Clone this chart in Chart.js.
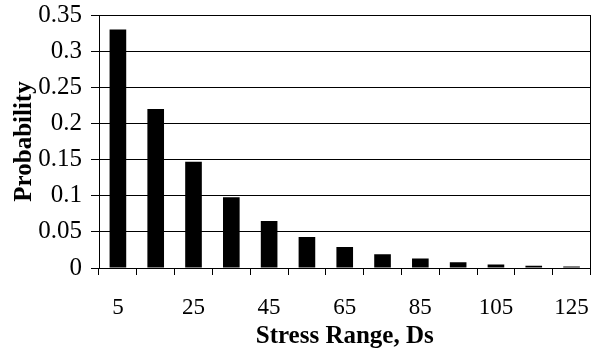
<!DOCTYPE html>
<html>
<head>
<meta charset="utf-8">
<script src="https://cdn.jsdelivr.net/npm/chart.js@4"></script>
<style>
    html, body { margin: 0; padding: 0; background: #fff; }
    #wrap { width: 608px; height: 349px; }
</style>
</head>
<body>
<div id="wrap"><canvas id="bar-chart-stress"></canvas></div>
<script>
"use strict";

const stressRanges = [5, 15, 25, 35, 45, 55, 65, 75, 85, 95, 105, 115, 125];
const probabilities = [0.33, 0.22, 0.147, 0.098, 0.065, 0.043, 0.029, 0.019, 0.013, 0.008, 0.005, 0.003, 0.002];
const yTickMax = 0.35;
const yTickStep = 0.05;

const serif = "'Liberation Serif', 'Times New Roman', serif";

const ctx = document.querySelector("#bar-chart-stress").getContext('2d');
new Chart(ctx, {
    type: 'bar',
    data: {
        labels: stressRanges,
        datasets: [{
            label: 'Probability',
            data: probabilities,
            backgroundColor: '#000',
            barPercentage: 0.44,
            categoryPercentage: 1
        }]
    },
    options: {
        responsive: true,
        maintainAspectRatio: false,
        animation: false,
        layout: { padding: { top: 15, right: 0, left: 0, bottom: 0 } },
        plugins: {
            legend: { display: false },
            tooltip: { enabled: false }
        },
        scales: {
            x: {
                offset: true,
                grid: {
                    offset: true,
                    drawOnChartArea: false,
                    drawTicks: true,
                    tickLength: 7,
                    color: '#000'
                },
                border: { color: '#000', width: 1 },
                ticks: {
                    autoSkip: false,
                    maxRotation: 0,
                    padding: 19,
                    color: '#000',
                    font: { family: serif, size: 23 },
                    callback: (val, i) => (i % 2 === 0 ? stressRanges[i] : '')
                },
                title: {
                    display: true,
                    text: 'Stress Range, Ds',
                    color: '#000',
                    padding: { top: 0, bottom: 0 },
                    font: { family: serif, size: 25, weight: 'bold', lineHeight: 1.0 }
                },
                afterFit(scale) { scale.height = 81; }
            },
            y: {
                min: 0,
                max: yTickMax,
                grid: {
                    color: '#000',
                    lineWidth: 1,
                    tickLength: 8
                },
                border: { color: '#000', width: 1 },
                ticks: {
                    stepSize: yTickStep,
                    padding: 9,
                    color: '#000',
                    font: { family: serif, size: 25 },
                    callback: val => String(+val.toFixed(2))
                },
                title: {
                    display: true,
                    text: 'Probability',
                    color: '#000',
                    padding: { top: 12, bottom: 0 },
                    font: { family: serif, size: 25, weight: 'bold', lineHeight: 1.0 }
                },
                afterFit(scale) {
                    scale.width = 99;
                    scale.paddingTop = 0;
                    scale.paddingBottom = 0;
                }
            },
            yRight: {
                position: 'right',
                min: 0,
                max: yTickMax,
                grid: { drawOnChartArea: false, drawTicks: false },
                border: { color: '#000', width: 1 },
                ticks: { display: false },
                afterFit(scale) {
                    scale.width = 5;
                    scale.paddingTop = 0;
                    scale.paddingBottom = 0;
                }
            }
        }
    }
});
</script>
</body>
</html>
